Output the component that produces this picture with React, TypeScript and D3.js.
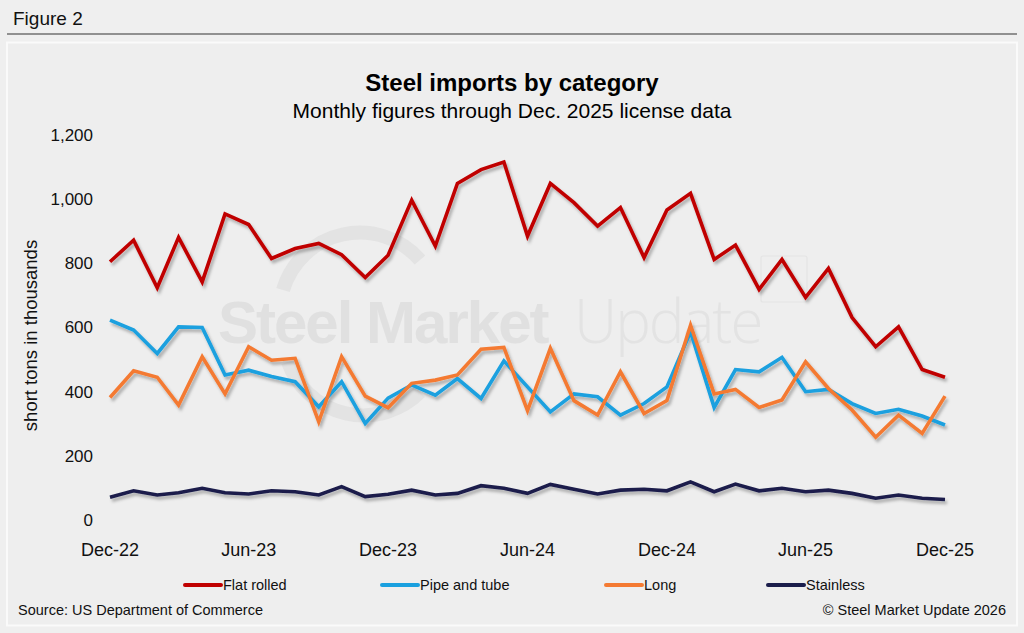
import React from 'react';
import * as d3 from 'd3';

// Monthly license data, Dec-22 .. Dec-25 (thousand short tons)
const months = d3.timeMonth.range(new Date(2022, 11, 1), new Date(2026, 0, 1));

const flatRolled = [805, 872, 724, 881, 742, 954, 921, 815, 846, 862, 827, 756, 825, 997, 854, 1049, 1092, 1116, 885, 1049, 989, 916, 974, 818, 966, 1018, 812, 857, 719, 812, 694, 784, 631, 540, 602, 469, 445];
const pipeAndTube = [623, 592, 519, 602, 600, 452, 467, 447, 431, 353, 431, 301, 380, 421, 389, 441, 379, 496, 415, 337, 393, 384, 327, 363, 415, 587, 351, 469, 462, 507, 400, 407, 363, 332, 345, 324, 296];
const long = [382, 465, 445, 358, 509, 393, 540, 498, 504, 306, 509, 386, 350, 426, 436, 452, 532, 538, 341, 535, 372, 327, 462, 332, 372, 607, 393, 407, 351, 374, 493, 410, 343, 258, 327, 270, 386];
const stainless = [71, 91, 78, 85, 99, 85, 81, 91, 88, 78, 104, 73, 80, 93, 78, 83, 107, 99, 83, 111, 96, 81, 93, 96, 91, 119, 88, 112, 91, 99, 88, 93, 83, 68, 78, 68, 64];

const yTicks = [0, 200, 400, 600, 800, 1000, 1200];
const xTickEvery = 6;

const series = [
  { name: 'Flat rolled', values: flatRolled, color: '#c00000' },
  { name: 'Pipe and tube', values: pipeAndTube, color: '#1aa0df' },
  { name: 'Long', values: long, color: '#f47a32' },
  { name: 'Stainless', values: stainless, color: '#1b1e4b' },
];

const W = 1024;
const H = 633;
const FONT = '"Liberation Sans", Arial, Helvetica, sans-serif';

const App: React.FC = () => {
  const x = d3.scaleTime().domain([months[0], months[months.length - 1]]).range([110, 945]);
  const y = d3.scaleLinear().domain([0, 1200]).range([520, 135]);

  const line = d3
    .line<number>()
    .x((_, i) => x(months[i]))
    .y(d => y(d));

  const fmt = d3.timeFormat('%b-%y');
  const tickMonths = months.filter((_, i) => i % xTickEvery === 0);

  // legend positions (swatch start)
  const legendX = [185, 382, 606, 768];

  return (
    <svg
      width={W}
      height={H}
      style={{ position: 'absolute', left: 0, top: 0, fontFamily: FONT }}
    >
      <defs>
        <filter id="shadow" x="-10%" y="-10%" width="120%" height="130%">
          <feDropShadow dx="2" dy="3" stdDeviation="1.8" floodColor="#000" floodOpacity="0.28" />
        </filter>
      </defs>

      <rect x={0} y={0} width={W} height={H} fill="#efefef" />
      <text x={13} y={25} fontSize={19} fill="#111">Figure 2</text>
      <line x1={7} x2={1017} y1={34} y2={34} stroke="#333" strokeWidth={1.2} />

      <rect x={7} y={42.5} width={1010} height={583} fill="#eeeeee" stroke="#fafafa" strokeWidth={2} />

      {/* watermark */}
      <g>
        <path d="M 283 290 A 80 80 0 0 1 420 260" fill="none" stroke="#e3e3e3" strokeWidth={14} />
        <path d="M 288 362 A 80 80 0 0 0 420 392" fill="none" stroke="#e3e3e3" strokeWidth={14} />
        <text x={218} y={343} fontSize={60} fontWeight="bold" fill="#e0e0e0" letterSpacing={-2}>
          Steel Market
        </text>
        <text x={574} y={343} fontSize={60} fontWeight={300} fill="#e3e3e3" fontFamily='"Open Sans", sans-serif' letterSpacing={-2}>
          Update
        </text>
        <rect x={761} y={256} width={46} height={46} fill="none" stroke="#e4e4e4" strokeWidth={1.2} rx={2} />
      </g>

      <text x={512} y={91} textAnchor="middle" fontSize={24} fontWeight="bold" fill="#000">
        Steel imports by category
      </text>
      <text x={512} y={118} textAnchor="middle" fontSize={21} fill="#000">
        Monthly figures through Dec. 2025 license data
      </text>

      {yTicks.map(t => (
        <text key={t} x={93} y={y(t)} dy="0.35em" textAnchor="end" fontSize={17} fill="#111">
          {d3.format(',')(t)}
        </text>
      ))}
      <text
        transform={`translate(37, ${y(575)}) rotate(-90)`}
        textAnchor="middle"
        fontSize={18.5}
        fill="#111"
      >
        short tons in thousands
      </text>

      {tickMonths.map(m => (
        <text key={m.toISOString()} x={x(m)} y={556} textAnchor="middle" fontSize={18} fill="#111">
          {fmt(m)}
        </text>
      ))}

      <g filter="url(#shadow)">
        {series.map(s => (
          <path
            key={s.name}
            d={line(s.values) ?? ''}
            fill="none"
            stroke={s.color}
            strokeWidth={3.6}
            strokeLinejoin="miter"
          />
        ))}
      </g>

      {series.map((s, i) => (
        <g key={s.name} transform={`translate(${legendX[i]}, 585)`}>
          <line x1={0} x2={36} y1={0} y2={0} stroke={s.color} strokeWidth={4} strokeLinecap="round" />
          <text x={38} y={0} dy="0.35em" fontSize={14.5} fill="#111">
            {s.name}
          </text>
        </g>
      ))}

      <text x={18} y={615} fontSize={14.5} fill="#111">Source: US Department of Commerce</text>
      <text x={1006} y={615} textAnchor="end" fontSize={14.5} fill="#111">© Steel Market Update 2026</text>
    </svg>
  );
};

export default App;
